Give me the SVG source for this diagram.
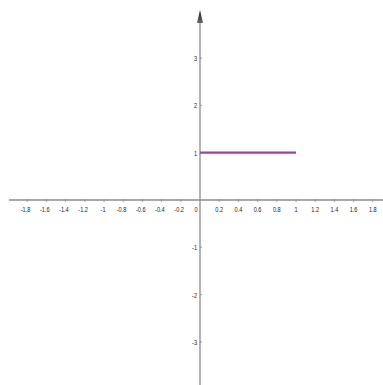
<svg xmlns="http://www.w3.org/2000/svg" width="383" height="385" viewBox="0 0 383 385">
  <style>
    .axis { stroke: #8c8c8c; stroke-width: 1.3; fill: none; }
    .tick { stroke: #8c8c8c; stroke-width: 0.8; }
    .lbl { font-family: "Liberation Sans", Arial, sans-serif; font-size: 8px; fill: #222; }
    .xl { text-anchor: middle; }
    .yl { text-anchor: end; }
    .seg { stroke: #a23fa8; stroke-width: 2.2; fill: none; }
  </style>
  <defs>
    <linearGradient id="ag" x1="0" y1="0" x2="0" y2="1">
      <stop offset="0" stop-color="#222"/>
      <stop offset="1" stop-color="#666"/>
    </linearGradient>
  </defs>
  <rect width="383" height="385" fill="#ffffff"/>
  <g id="axes">
    <line class="axis" x1="9" y1="200" x2="383" y2="200"/>
    <line class="axis" x1="200" y1="18" x2="200" y2="385"/>
    <polygon points="200,10 197,23 203,23" fill="url(#ag)"/>
  </g>
  <g id="xticks" class="tick">
    <line x1="27.2" y1="199" x2="27.2" y2="202"/>
    <line x1="46.4" y1="199" x2="46.4" y2="202"/>
    <line x1="65.6" y1="199" x2="65.6" y2="202"/>
    <line x1="84.8" y1="199" x2="84.8" y2="202"/>
    <line x1="104" y1="199" x2="104" y2="202"/>
    <line x1="123.2" y1="199" x2="123.2" y2="202"/>
    <line x1="142.4" y1="199" x2="142.4" y2="202"/>
    <line x1="161.6" y1="199" x2="161.6" y2="202"/>
    <line x1="180.8" y1="199" x2="180.8" y2="202"/>
    <line x1="219.2" y1="199" x2="219.2" y2="202"/>
    <line x1="238.4" y1="199" x2="238.4" y2="202"/>
    <line x1="257.6" y1="199" x2="257.6" y2="202"/>
    <line x1="276.8" y1="199" x2="276.8" y2="202"/>
    <line x1="296" y1="199" x2="296" y2="202"/>
    <line x1="315.2" y1="199" x2="315.2" y2="202"/>
    <line x1="334.4" y1="199" x2="334.4" y2="202"/>
    <line x1="353.6" y1="199" x2="353.6" y2="202"/>
    <line x1="372.8" y1="199" x2="372.8" y2="202"/>
  </g>
  <g id="yticks" class="tick">
    <line x1="200" y1="58.1" x2="202" y2="58.1"/>
    <line x1="200" y1="105.4" x2="202" y2="105.4"/>
    <line x1="200" y1="152.7" x2="202" y2="152.7"/>
    <line x1="200" y1="247.3" x2="202" y2="247.3"/>
    <line x1="200" y1="294.6" x2="202" y2="294.6"/>
    <line x1="200" y1="341.9" x2="202" y2="341.9"/>
  </g>
  <g id="xlabels" class="lbl xl">
    <text transform="translate(25.5,212) scale(0.7,1)">-1.8</text>
    <text transform="translate(44.7,212) scale(0.7,1)">-1.6</text>
    <text transform="translate(63.9,212) scale(0.7,1)">-1.4</text>
    <text transform="translate(83.1,212) scale(0.7,1)">-1.2</text>
    <text transform="translate(103,212) scale(0.7,1)">-1</text>
    <text transform="translate(121.5,212) scale(0.7,1)">-0.8</text>
    <text transform="translate(140.7,212) scale(0.7,1)">-0.6</text>
    <text transform="translate(159.9,212) scale(0.7,1)">-0.4</text>
    <text transform="translate(179.1,212) scale(0.7,1)">-0.2</text>
    <text transform="translate(196,212) scale(0.7,1)">0</text>
    <text transform="translate(219.2,212) scale(0.7,1)">0.2</text>
    <text transform="translate(238.4,212) scale(0.7,1)">0.4</text>
    <text transform="translate(257.6,212) scale(0.7,1)">0.6</text>
    <text transform="translate(276.8,212) scale(0.7,1)">0.8</text>
    <text transform="translate(296,212) scale(0.7,1)">1</text>
    <text transform="translate(315.2,212) scale(0.7,1)">1.2</text>
    <text transform="translate(334.4,212) scale(0.7,1)">1.4</text>
    <text transform="translate(353.6,212) scale(0.7,1)">1.6</text>
    <text transform="translate(372.8,212) scale(0.7,1)">1.8</text>
  </g>
  <g id="ylabels" class="lbl yl">
    <text transform="translate(197,61) scale(0.7,1)">3</text>
    <text transform="translate(197,108.3) scale(0.7,1)">2</text>
    <text transform="translate(197,155.6) scale(0.7,1)">1</text>
    <text transform="translate(197,250.2) scale(0.7,1)">-1</text>
    <text transform="translate(197,297.5) scale(0.7,1)">-2</text>
    <text transform="translate(197,344.8) scale(0.7,1)">-3</text>
  </g>
  <g id="segment">
    <line class="seg" x1="200" y1="152.7" x2="296" y2="152.7"/>
  </g>
</svg>
